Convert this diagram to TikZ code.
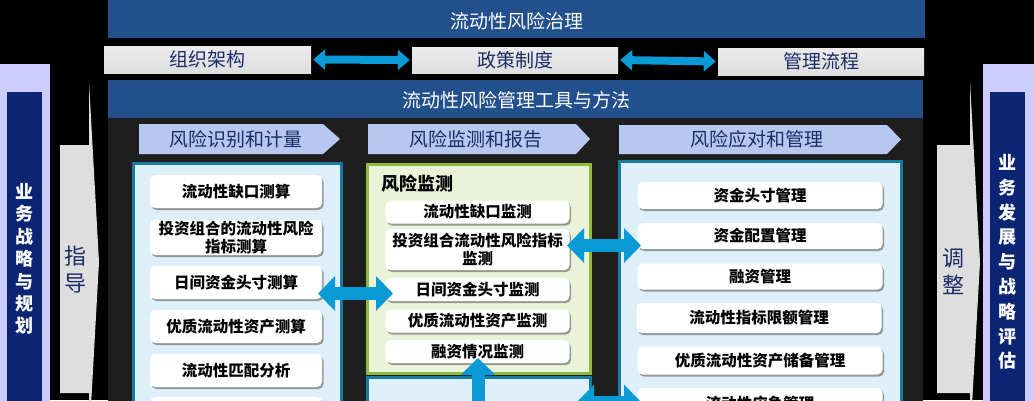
\documentclass[tikz,border=0pt]{standalone}
\usepackage{fontspec}
\setmainfont{Noto Sans CJK SC}
\usetikzlibrary{arrows.meta,shadows}
\definecolor{bannerblue}{HTML}{21508D}
\definecolor{panelgray}{HTML}{1E1E1E}
\definecolor{boxgray}{HTML}{DEDEDE}
\definecolor{navytext}{HTML}{1C2C66}
\definecolor{headblue}{HTML}{B6C8F0}
\definecolor{collight}{HTML}{DDEFF9}
\definecolor{colborder}{HTML}{1B7AA3}
\definecolor{greenfill}{HTML}{EAF3D7}
\definecolor{greenborder}{HTML}{8DBB3D}
\definecolor{arrowblue}{HTML}{0A9AD6}
\definecolor{lavender}{HTML}{CCCCFF}
\definecolor{sidenavy}{HTML}{0B2574}
\definecolor{guidegray}{HTML}{DEDEDE}
\begin{document}
\begin{tikzpicture}[x=1pt,y=-1pt,
  banner/.style={fill=bannerblue},
  bannertext/.style={text=white,font=\fontsize{19}{21}\selectfont,inner sep=0pt},
  graybox/.style={top color=boxgray!60!white,bottom color=boxgray,draw=none,inner sep=0pt,text=navytext,font=\fontsize{19}{21}\selectfont},
  headtext/.style={text=navytext,font=\fontsize{19}{21}\selectfont,inner sep=0pt},
  colbox/.style={fill=collight,draw=colborder,line width=3pt},
  item/.style={fill=white,rounded corners=5pt,inner sep=0pt,align=center,
    font=\fontsize{15.5}{17.5}\selectfont\bfseries,text=black,
    drop shadow={shadow xshift=1.5pt,shadow yshift=-2pt,fill=black!55,opacity=0.7}},
  sidetext/.style={text=white,align=center,font=\fontsize{18}{22.4}\selectfont\bfseries,inner sep=0pt},
  guidetext/.style={text=navytext,align=center,font=\fontsize{22}{27}\selectfont,inner sep=0pt},
  thinarrow/.style={draw=arrowblue,line width=8pt,{Triangle[width=20pt,length=12pt]}-{Triangle[width=20pt,length=12pt]}},
  fatarrow/.style={draw=arrowblue,line width=13pt,{Triangle[width=34pt,length=17pt]}-{Triangle[width=34pt,length=17pt]}}
]
\useasboundingbox (0,0) rectangle (1034,400);
\clip (0,0) rectangle (1034,400);
\fill[black] (0,0) rectangle (1034,400);

% side panels
\fill[lavender] (0,64) rectangle (50,440);
\fill[sidenavy] (7,92) rectangle (42,440);
\node[sidetext] (leftside) at (25,259) {业\\务\\战\\略\\与\\规\\划};
\fill[lavender] (983,64) rectangle (1034,440);
\fill[sidenavy] (990,92) rectangle (1025,440);
\node[sidetext,font=\fontsize{18}{24.8}\selectfont\bfseries] (rightside) at (1007,262) {业\\务\\发\\展\\与\\战\\略\\评\\估};

% guide arrows
\fill[guidegray] (60,145) -- (89,145) -- (89,82) -- (99,262) -- (89,442) -- (89,393) -- (60,393) -- cycle;
\node[guidetext] (guide) at (75,270) {指\\导};
\fill[guidegray] (937,145) -- (970,145) -- (970,82) -- (980,262) -- (970,442) -- (970,393) -- (937,393) -- cycle;
\node[guidetext] (adjust) at (953,272) {调\\整};

% top banner
\fill[banner] (108,0) rectangle (925,38);
\node[bannertext] (gov) at (517,21) {流动性风险治理};

% gray boxes
\node[graybox,minimum width=207pt,minimum height=27pt] (g1) at (207.5,59.5) {组织架构};
\node[graybox,minimum width=206pt,minimum height=26pt] (g2) at (515,60) {政策制度};
\node[graybox,minimum width=206pt,minimum height=27pt] (g3) at (821,61.5) {管理流程};
\draw[thinarrow,shorten <=2pt,shorten >=2pt] (g1.east) -- (g2.west);
\draw[thinarrow,shorten <=2pt,shorten >=2pt] (g2.east) -- (g3.west);

% second banner and panel
\fill[panelgray] (108,118) rectangle (923,440);
\fill[banner] (108,80) rectangle (923,118);
\node[bannertext] (tools) at (516,100) {流动性风险管理工具与方法};

% column headers
\fill[headblue] (139,124) -- (323,124) -- (340,139) -- (323,154) -- (139,154) -- cycle;
\node[headtext] (h1) at (236,139) {风险识别和计量};
\fill[headblue] (368,124) -- (576,124) -- (590,139) -- (576,154) -- (368,154) -- cycle;
\node[headtext] (h2) at (476,139) {风险监测和报告};
\fill[headblue] (619,125) -- (887,125) -- (901,139.5) -- (887,154) -- (619,154) -- cycle;
\node[headtext] (h3) at (757,139.5) {风险应对和管理};

% column boxes
\draw[colbox] (133,163) rectangle (341,450);
\draw[fill=greenfill,draw=greenborder,line width=3pt] (367,164) rectangle (590,373);
\draw[colbox] (367,377) rectangle (590,450);
\draw[colbox] (619,161) rectangle (901,450);

% left items
\node[item,minimum width=172pt,minimum height=33pt] (l1) at (236,191.5) {流动性缺口测算};
\node[item,minimum width=172pt,minimum height=35pt] (l2) at (236,237.5) {投资组合的流动性风险\\指标测算};
\node[item,minimum width=172pt,minimum height=33pt] (l3) at (236,282.5) {日间资金头寸测算};
\node[item,minimum width=172pt,minimum height=33pt] (l4) at (236,326.5) {优质流动性资产测算};
\node[item,minimum width=172pt,minimum height=33pt] (l5) at (236,370.5) {流动性匹配分析};
\node[item,minimum width=172pt,minimum height=33pt] (l6) at (236,413.5) {};

% middle items
\node[anchor=west,inner sep=0pt,font=\fontsize{18}{20}\selectfont\bfseries] (mt) at (381,184) {风险监测};
\node[item,minimum width=184pt,minimum height=23pt] (m1) at (477.5,212) {流动性缺口监测};
\node[item,minimum width=184pt,minimum height=41pt] (m2) at (477.5,249.5) {投资组合流动性风险指标\\监测};
\node[item,minimum width=184pt,minimum height=23pt] (m3) at (477.5,289.5) {日间资金头寸监测};
\node[item,minimum width=184pt,minimum height=23pt] (m4) at (477.5,321) {优质流动性资产监测};
\node[item,minimum width=184pt,minimum height=23pt] (m5) at (477.5,351.5) {融资情况监测};

% right items
\node[item,minimum width=245pt,minimum height=27pt] (r1) at (760,195.5) {资金头寸管理};
\node[item,minimum width=245pt,minimum height=26pt] (r2) at (760,236) {资金配置管理};
\node[item,minimum width=245pt,minimum height=26pt] (r3) at (760,276.5) {融资管理};
\node[item,minimum width=245pt,minimum height=30pt] (r4) at (759,318) {流动性指标限额管理};
\node[item,minimum width=245pt,minimum height=28pt] (r5) at (760,360.5) {优质流动性资产储备管理};
\node[item,minimum width=245pt,minimum height=32pt] (r6) at (760,404) {流动性应急管理};

% connectors
\coordinate (a1s) at (318,293.5);
\coordinate (a1e) at (393,293.5);
\draw[fatarrow] (a1s) -- (a1e);
\coordinate (a2s) at (567,245.5);
\coordinate (a2e) at (641,245.5);
\draw[fatarrow] (a2s) -- (a2e);
\coordinate (a3s) at (478,358);
\coordinate (a3e) at (478,433);
\draw[fatarrow] (a3s) -- (a3e);
\coordinate (a4s) at (577,402);
\coordinate (a4e) at (641,402);
\draw[fatarrow] (a4s) -- (a4e);
\end{tikzpicture}
\end{document}
